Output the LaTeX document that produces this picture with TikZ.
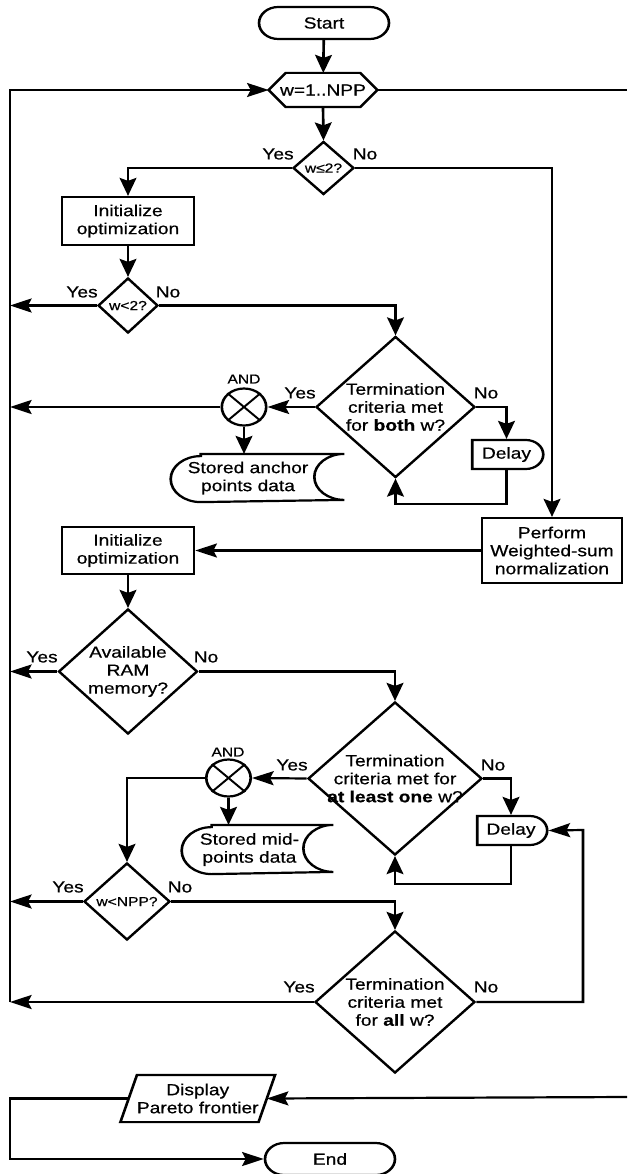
\documentclass[tikz,border=0pt]{standalone}
\usepackage{fontspec}
\setmainfont[FakeBold=0.5]{Liberation Sans}
\usetikzlibrary{shapes.geometric,shapes.misc,arrows.meta}

\begin{document}
\begin{tikzpicture}
\useasboundingbox (0,0) rectangle (627pt,-1174pt);
\fill[white] (0,0) rectangle (627pt,-1174pt);
% the whole chart is drawn slightly stretched horizontally
\begin{scope}[transform canvas={xscale=1.2}, x=0.833333pt, y=1pt,
  line width=2.2pt,
  every node/.style={font=\fontsize{16}{18}\selectfont, inner sep=0pt, align=center},
  arr/.style={-{Stealth[length=18pt,width=14pt,inset=3pt]}},
  term/.style={rounded rectangle, draw, minimum width=108.3pt, minimum height=32pt},
  proc/.style={rectangle, draw, minimum width=110pt},
  dec/.style={diamond, draw},
  dtxt/.style={font=\fontsize{16}{18}\selectfont, align=center},
  stxt/.style={font=\fontsize{13}{15}\selectfont},
  andtxt/.style={font=\fontsize{13}{15}\selectfont},
  gate/.style={circle, draw, minimum size=37pt},
  delaybox/.style={rounded rectangle, rounded rectangle west arc=none, draw, minimum height=29pt},
  lbl/.style={font=\fontsize{16}{18}\selectfont}
]

% ---------- nodes ----------
\node[term] (start) at (324,-23) {Start};

\node[minimum width=88.3pt, minimum height=32pt] (loop) at (323,-90) {w=1..NPP};
\draw (loop.west) -- ([xshift=14.2pt]loop.north west) -- ([xshift=-14.2pt]loop.north east)
  -- (loop.east) -- ([xshift=-14.2pt]loop.south east) -- ([xshift=14.2pt]loop.south west) -- cycle;

\node[dec, minimum width=50.8pt, minimum height=53pt,
  label={[stxt]center:w≤2?}] (d1) at (323.5,-168) {};

\node[proc, minimum height=48pt] (init1) at (128,-221) {Initialize\\optimization};

\node[dec, minimum width=50pt, minimum height=55pt,
  label={[stxt]center:w<2?}] (d2) at (128,-305.5) {};

\node[dec, minimum width=132.5pt, minimum height=141pt,
  label={[dtxt]center:{Termination\\criteria met\\for \textbf{both} w?}}] (t1) at (395.5,-407) {};

\node[gate] (and1) at (244,-407) {};
\draw[line width=1.8pt] (and1.north west) -- (and1.south east) (and1.north east) -- (and1.south west);
\node[andtxt] (andlbl1) at (244,-379) {AND};

\node[minimum width=142.5pt, minimum height=46pt,
  label={[dtxt, xshift=-7.9pt]center:{Stored anchor\\points data}}] (st1) at (257.5,-478) {};
\draw ([xshift=25pt]st1.north west) -- (st1.north east)
  arc[start angle=90, end angle=270, x radius=25pt, y radius=23pt]
  -- ([xshift=25pt]st1.south west)
  arc[start angle=270, end angle=90, x radius=25pt, y radius=23pt] -- cycle;

\node[delaybox, minimum width=59.2pt] (dl1) at (506.5,-454.5) {Delay};

\node[proc, minimum width=116.7pt, minimum height=65pt] (perf) at (552,-550.5)
  {Perform\\Weighted-sum\\normalization};

\node[proc, minimum height=47pt] (init2) at (128,-550.5) {Initialize\\optimization};

\node[dec, minimum width=115.8pt, minimum height=125pt,
  label={[dtxt]center:{Available\\RAM\\memory?}}] (ram) at (128,-671.5) {};

\node[dec, minimum width=145pt, minimum height=153pt,
  label={[dtxt]center:{Termination\\criteria met for\\\textbf{at least one} w?}}] (t2) at (395,-778.5) {};

\node[gate] (and2) at (228.5,-778) {};
\draw[line width=1.8pt] (and2.north west) -- (and2.south east) (and2.north east) -- (and2.south west);
\node[andtxt] (andlbl2) at (228,-752) {AND};

\node[minimum width=124.2pt, minimum height=47pt,
  label={[dtxt, xshift=-6.7pt]center:{Stored mid-\\points data}}] (st2) at (257.5,-849.5) {};
\draw ([xshift=25pt]st2.north west) -- (st2.north east)
  arc[start angle=90, end angle=270, x radius=25pt, y radius=23.5pt]
  -- ([xshift=25pt]st2.south west)
  arc[start angle=270, end angle=90, x radius=25pt, y radius=23.5pt] -- cycle;

\node[delaybox, minimum width=58.3pt] (dl2) at (511,-830.5) {Delay};

\node[dec, minimum width=71.7pt, minimum height=77pt,
  label={[stxt]center:w<NPP?}] (d3) at (127,-901.5) {};

\node[dec, minimum width=133.3pt, minimum height=142pt,
  label={[dtxt]center:{Termination\\criteria met\\for \textbf{all} w?}}] (t3) at (395,-1002) {};

\node[minimum width=112.9pt, minimum height=45pt] (disp) at (197.75,-1098.5) {Display\\Pareto frontier};
\draw ([xshift=6.9pt]disp.north west) -- ([xshift=6.9pt]disp.north east)
  -- ([xshift=-6.9pt]disp.south east) -- ([xshift=-6.9pt]disp.south west) -- cycle;

\node[term] (end) at (330,-1159) {End};

% ---------- branch labels ----------
\node[lbl] (y1) at (278,-154) {Yes};  \node[lbl] (n1) at (365,-154) {No};
\node[lbl] (y2) at (82,-292) {Yes};   \node[lbl] (n2) at (168,-292) {No};
\node[lbl] (y3) at (300,-393) {Yes};  \node[lbl] (n3) at (486,-393) {No};
\node[lbl] (y4) at (42,-657) {Yes};   \node[lbl] (n4) at (206,-657) {No};
\node[lbl] (y5) at (292,-765) {Yes};  \node[lbl] (n5) at (493,-765) {No};
\node[lbl] (y6) at (68,-887) {Yes};   \node[lbl] (n6) at (180,-887) {No};
\node[lbl] (y7) at (299,-987) {Yes};  \node[lbl] (n7) at (486,-987) {No};

% ---------- helper coordinates ----------
\coordinate (spine) at (10,-90);
\coordinate (rtop) at (627,-90);
\coordinate (rbot) at (627,-1097);
\coordinate (rret) at (583,-830);

% ---------- connectors ----------
\draw[arr] (start) -- (loop);
\draw (loop.east) -- (rtop);
\draw[arr] (loop.south) -- (d1.north);
\draw[arr] (d1.west) -| (init1.north);
\draw[arr] (d1.east) -| (perf.north);
\draw[arr] (init1.south) -- (d2.north);
\draw[arr] (d2.west) -- (d2.west -| spine);
\draw[arr] (d2.east) -| (t1.north);
\draw[arr] (t1.west) -- (and1.east);
\draw[arr] (and1.west) -- (and1.west -| spine);
\draw[arr] (and1.south) -- (and1.south |- st1.north);
\draw[arr] (t1.east) -| (dl1.north);
\draw[arr] (dl1.south) -- ++(0,-34) -| (t1.south);
\draw[arr] (perf.west) -- (init2.east);
\draw[arr] (init2.south) -- (ram.north);
\draw[arr] (ram.west) -- (ram.west -| spine);
\draw[arr] (ram.east) -| (t2.north);
\draw[arr] (t2.west) -- (and2.east);
\draw[arr] (and2.west) -| (d3.north);
\draw[arr] (and2.south) -- (and2.south |- st2.north);
\draw[arr] (t2.east) -| (dl2.north);
\draw[arr] (dl2.south) -- ++(0,-38) -| (t2.south);
\draw[arr] (d3.west) -- (d3.west -| spine);
\draw[arr] (d3.east) -| (t3.north);
\draw[arr] (t3.west) -- (t3.west -| spine);
\draw[arr] (t3.west -| spine) |- (loop.west);
\draw[arr] (t3.east) -| (rret) -- (dl2.east);
\draw[arr] (rbot) -- (disp.east);
\draw[arr] (disp.west) -- (disp.west -| spine) |- (end.west);
\end{scope}
\end{tikzpicture}
\end{document}
